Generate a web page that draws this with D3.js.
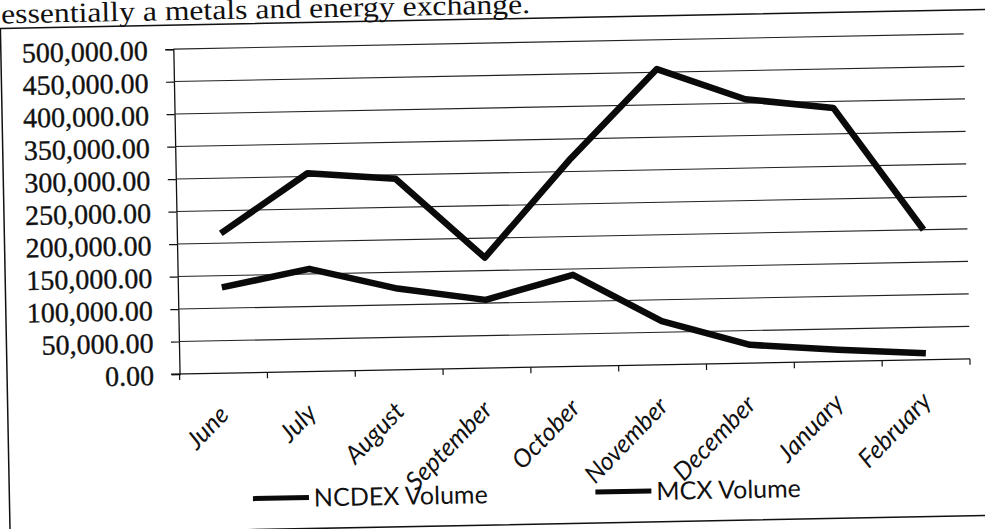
<!DOCTYPE html>
<html><head><meta charset="utf-8">
<script src="https://cdn.jsdelivr.net/npm/d3@7"></script>
<style>body{margin:0;background:#fff} svg{display:block}</style>
</head><body>
<svg id="c" width="985" height="529"></svg>
<script>
const titleText = "essentially a metals and energy exchange.";
const months = ["June","July","August","September","October","November","December","January","February"];
const ncdexVolume = [132000,158000,125000,105000,141000,67000,28000,18000,10000];
const mcxVolume = [215000,305000,294000,170000,320000,455000,406000,390000,200000];
const yTicks = [0,50000,100000,150000,200000,250000,300000,350000,400000,450000,500000];
const seriesNames = ["NCDEX Volume","MCX Volume"];

const svg = d3.select("#c");
svg.append("rect").attr("width",985).attr("height",529).attr("fill","#fff");
const g = svg.append("g").attr("transform","rotate(-1.1,492,264)");

const x = d3.scaleBand().domain(months).range([177.5,968]).padding(0);
const y = d3.scaleLinear().domain([0,500000]).range([368,43]);
const fmt = d3.format(",.2f");

// frame
g.append("rect").attr("x",5).attr("y",19).attr("width",990).attr("height",506)
  .attr("fill","none").attr("stroke","#111").attr("stroke-width",1.5);

// title
g.append("text").attr("x",6).attr("y",14).text(titleText)
  .attr("font-family","'Liberation Serif','Times New Roman',serif").attr("font-size",28)
  .attr("textLength",529).attr("lengthAdjust","spacingAndGlyphs").attr("fill","#111");

// y axis
const yAxis = d3.axisLeft(y).tickValues(yTicks).tickSize(8).tickFormat(fmt);
const ya = g.append("g").attr("transform","translate(177.5,0)").call(yAxis);
ya.select(".domain").attr("stroke","#111").attr("stroke-width",1.3);
ya.selectAll(".tick line").attr("stroke","#111").attr("stroke-width",1.2);
ya.selectAll(".tick text").attr("x",-25.5).attr("dy","0.36em")
  .attr("font-family","'Liberation Serif','Times New Roman',serif").attr("font-size",28)
  .attr("fill","#111").attr("stroke","#111").attr("stroke-width",0.35);

// gridlines
g.append("g").selectAll("line").data(yTicks.filter(d=>d>0)).join("line")
  .attr("x1",177.5).attr("x2",968).attr("y1",d=>y(d)).attr("y2",d=>y(d))
  .attr("stroke","#222").attr("stroke-width",1.1);

// x axis
const xa = g.append("g").attr("transform",`translate(0,${y(0)})`);
xa.append("line").attr("x1",169).attr("x2",968).attr("stroke","#111").attr("stroke-width",1.3);
const bounds = months.map(m=>x(m)).concat([x(months[months.length-1])+x.bandwidth()]);
xa.selectAll("line.tk").data(bounds).join("line").attr("class","tk")
  .attr("x1",d=>d).attr("x2",d=>d).attr("y1",0).attr("y2",6)
  .attr("stroke","#111").attr("stroke-width",1.2);
xa.selectAll("text").data(months).join("text")
  .attr("transform",d=>`translate(${x(d)+x.bandwidth()/2+6},43) rotate(-45)`)
  .attr("text-anchor","end").text(d=>d)
  .attr("font-family","Lato,'Open Sans',sans-serif").attr("font-style","italic")
  .attr("font-size",25).attr("fill","#111");

// series
const line = d3.line().x((d,i)=>x(months[i])+x.bandwidth()/2).y(d=>y(d));
[ncdexVolume, mcxVolume].forEach(s=>{
  g.append("path").attr("d",line(s)).attr("fill","none").attr("stroke","#0a0a0a")
   .attr("stroke-width",6.5).attr("stroke-linejoin","round");
});

// legend
const legX = [248.5, 591];
seriesNames.forEach((n,i)=>{
  g.append("line").attr("x1",legX[i]).attr("x2",legX[i]+56).attr("y1",494).attr("y2",494)
   .attr("stroke","#0a0a0a").attr("stroke-width",5);
  g.append("text").attr("x",legX[i]+61).attr("y",503).text(n)
   .attr("font-family","Lato,'Open Sans',sans-serif").attr("font-size",25).attr("fill","#111");
});
</script>
</body></html>
